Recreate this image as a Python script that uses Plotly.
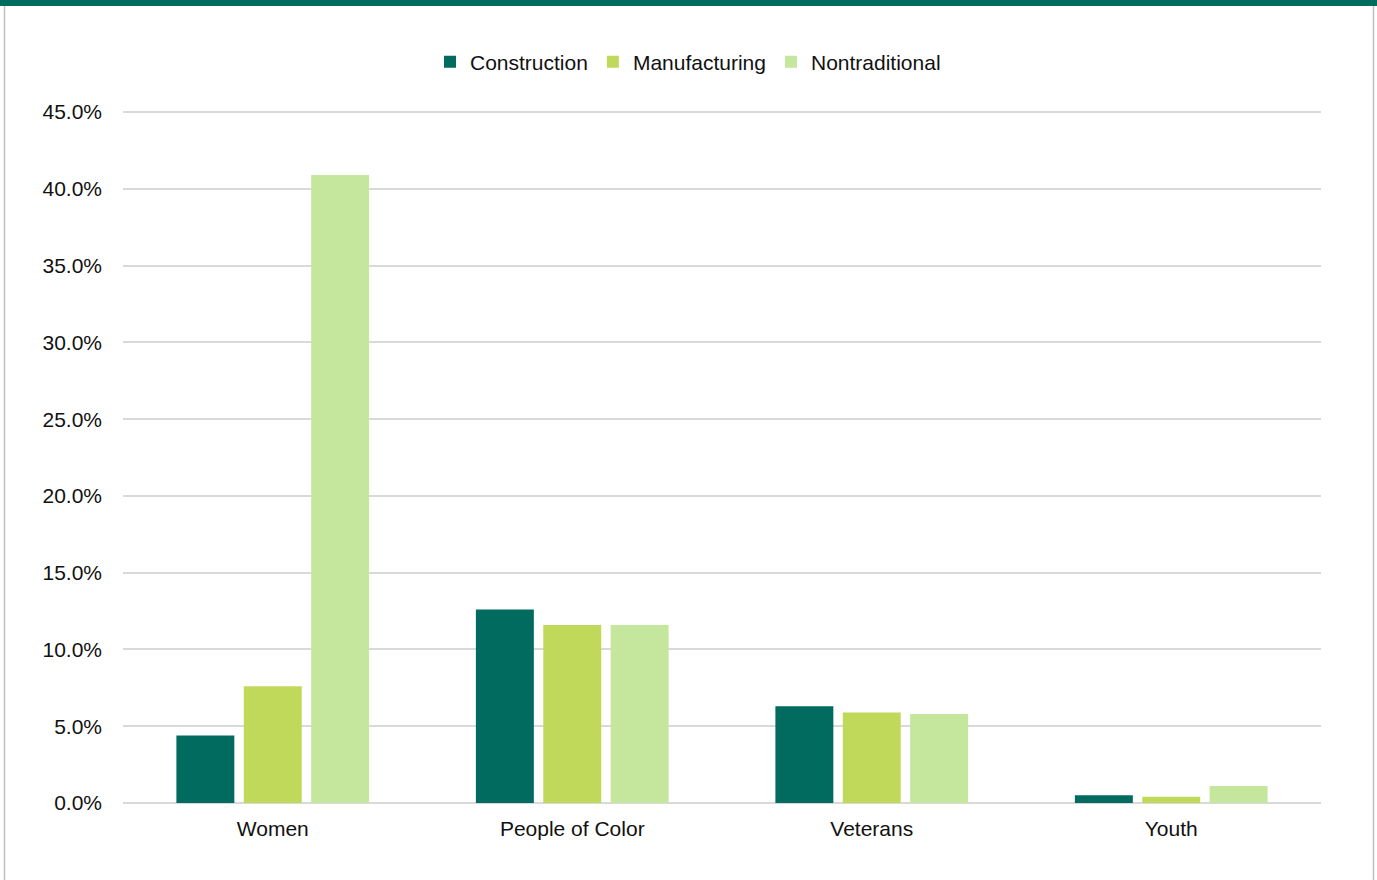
import plotly.graph_objects as go

# Share of participants by group and program type
categories = ["Women", "People of Color", "Veterans", "Youth"]
construction = [4.4, 12.6, 6.3, 0.5]
manufacturing = [7.6, 11.6, 5.9, 0.4]
nontraditional = [40.9, 11.6, 5.8, 1.1]
y_ticks = [0, 5, 10, 15, 20, 25, 30, 35, 40, 45]
y_tick_labels = [f"{v:.1f}%" for v in y_ticks]

series = [
    ("Construction", construction, "#006B5E"),
    ("Manufacturing", manufacturing, "#C0D95A"),
    ("Nontraditional", nontraditional, "#C4E69D"),
]

W, H = 1377, 880
ML, MR, MT, MB = 123, 56, 107, 77
pw, ph = W - ML - MR, H - MT - MB
y_top = 45.33  # small headroom so the 45% gridline is drawn

fig = go.Figure()
for name, vals, color in series:
    fig.add_trace(go.Bar(
        x=categories, y=vals, name=name,
        marker=dict(color=color, line=dict(width=0)),
        hovertemplate="%{x}: %{y:.1f}%<extra>" + name + "</extra>",
    ))

FONT = "Liberation Sans, Arial, sans-serif"
FS = 21

fig.update_layout(
    width=W, height=H,
    margin=dict(l=ML, r=MR, t=MT, b=MB, pad=0),
    paper_bgcolor="white", plot_bgcolor="white",
    barmode="group", bargap=0.325, bargroupgap=0.14,
    font=dict(family=FONT, size=FS, color="#111111"),
    showlegend=True,
    legend=dict(
        orientation="h", x=(688 - ML) / pw, xanchor="center",
        y=1 + (MT - 62) / ph, yanchor="middle",
        font=dict(family=FONT, size=FS, color="#111111"),
        itemwidth=30, traceorder="normal", bgcolor="rgba(0,0,0,0)",
    ),
    xaxis=dict(
        showgrid=False, showline=False, zeroline=False, ticks="",
        tickfont=dict(family=FONT, size=FS, color="#111111"),
        ticklabelstandoff=11,
    ),
    yaxis=dict(
        range=[0, y_top], tickvals=y_ticks, ticktext=y_tick_labels,
        showgrid=True, gridcolor="#D9D9D9", gridwidth=1.6,
        zeroline=True, zerolinecolor="#D9D9D9", zerolinewidth=1.6,
        showline=False, ticks="",
        tickfont=dict(family=FONT, size=FS, color="#111111"),
        ticklabelstandoff=20,
    ),
    shapes=[
        # outer frame of the chart
        dict(type="rect", xref="paper", yref="paper", layer="below",
             x0=(4.5 - ML) / pw, x1=(1373.5 - ML) / pw,
             y0=-(H + 10 - MT - ph) / ph, y1=1 + MT / ph,
             line=dict(color="#BFBFBF", width=1.5), fillcolor="rgba(0,0,0,0)"),
        # header band
        dict(type="rect", xref="paper", yref="paper",
             x0=-ML / pw, x1=1 + MR / pw,
             y0=1 + (MT - 6) / ph, y1=1 + (MT + 2) / ph,
             line=dict(width=0), fillcolor="#006B5E"),
    ],
)

fig.write_html("out.html")
